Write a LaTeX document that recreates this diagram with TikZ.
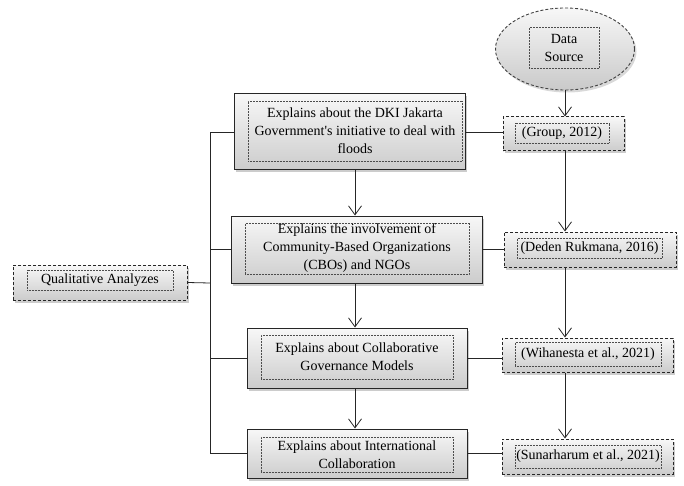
\documentclass[tikz,border=0pt]{standalone}
\usepackage{fontspec}
\setmainfont{Liberation Serif}
\usetikzlibrary{arrows.meta,shadows,shapes.geometric}
\tikzset{
  outerbox/.style={rectangle, draw=black!85, line width=1pt, top color=gray!6, bottom color=gray!40,
    drop shadow={shadow xshift=2pt, shadow yshift=-2.5pt, opacity=0.4}, inner sep=0pt},
  refbox/.style={outerbox, dashed, dash pattern=on 3pt off 2pt},
  innerbox/.style={rectangle, draw=black!70, densely dotted, line width=0.5pt, inner sep=0pt,
    align=center, font=\fontsize{14pt}{18pt}\selectfont, text=black},
  conn/.style={draw=black!85, line width=0.8pt},
  arr/.style={conn, -{Straight Barb[length=9pt,width=13pt,line width=0.8pt]}},
}
\begin{document}
\begin{tikzpicture}[x=1pt,y=-1pt]
\useasboundingbox (0,0) rectangle (684,486);
% data source
\node[ellipse, draw=black!75, dashed, dash pattern=on 3pt off 2pt, line width=0.9pt, top color=gray!6, bottom color=gray!42,
  minimum width=139pt, minimum height=82pt, drop shadow={shadow xshift=2pt, shadow yshift=-2.5pt, opacity=0.3}] (ds) at (565,49) {};
\node[innerbox, minimum width=70pt, minimum height=41pt] (dsin) at (564,48) {Data\\Source};
% left boxes
\node[outerbox, minimum width=231pt, minimum height=76pt] (b1) at (349.5,132) {};
\node[innerbox, minimum width=214pt, minimum height=60pt] (b1in) at (355,131) {Explains about the DKI Jakarta\\Government\textquotesingle s initiative to deal with\\floods};
\node[outerbox, minimum width=251pt, minimum height=67pt] (b2) at (356.5,249.5) {};
\node[innerbox, minimum width=224pt, minimum height=51pt] (b2in) at (357,248.5) {Explains the involvement of\\Community-Based Organizations\\(CBOs) and NGOs};
\node[outerbox, minimum width=220pt, minimum height=60pt] (b3) at (357,358) {};
\node[innerbox, minimum width=192pt, minimum height=44pt] (b3in) at (357,357) {Explains about Collaborative\\Governance Models};
\node[outerbox, minimum width=220pt, minimum height=49pt] (b4) at (357,453.5) {};
\node[innerbox, minimum width=192pt, minimum height=35pt] (b4in) at (357,454.5) {Explains about International\\Collaboration};
% reference boxes
\node[refbox, minimum width=121pt, minimum height=34pt] (g1) at (563.5,134) {};
\node[innerbox, minimum width=94pt, minimum height=20pt] (g1in) at (562,133) {(Group, 2012)};
\node[refbox, minimum width=172pt, minimum height=35pt] (g2) at (590,249.5) {};
\node[innerbox, minimum width=145pt, minimum height=20pt] (g2in) at (589.5,248) {(Deden Rukmana, 2016)};
\node[refbox, minimum width=171pt, minimum height=34pt] (g3) at (587.5,355) {};
\node[innerbox, minimum width=146pt, minimum height=24pt] (g3in) at (588,354) {(Wihanesta et al., 2021)};
\node[refbox, minimum width=171pt, minimum height=35pt] (g4) at (587.5,456.5) {};
\node[innerbox, minimum width=146pt, minimum height=23pt] (g4in) at (588,456.5) {(Sunarharum et al., 2021)};
% qualitative
\node[refbox, minimum width=174pt, minimum height=35pt] (qa) at (100,282.5) {};
\node[innerbox, minimum width=146pt, minimum height=20pt] (qain) at (100,280) {Qualitative Analyzes};
% bus
\coordinate (bus) at (210,283);
\draw[conn] (qa.east) -- (bus);
\draw[conn] (b1.west) -- (b1.west -| bus) -- (b4.west -| bus) -- (b4.west);
\draw[conn] (b2.west -| bus) -- (b2.west);
\draw[conn] (b3.west -| bus) -- (b3.west);
% left column arrows
\draw[arr] (b1.south -| b1in.south) -- (b2.north -| b1in.south);
\draw[arr] (b2.south -| b1in.south) -- (b3.north -| b1in.south);
\draw[arr] (b3.south -| b1in.south) -- (b4.north -| b1in.south);
% right column arrows
\draw[arr] (ds.south) -- (g1.north -| ds.south);
\draw[arr] (g1.south -| ds.south) -- (g2.north -| ds.south);
\draw[arr] (g2.south -| ds.south) -- (g3.north -| ds.south);
\draw[arr] (g3.south -| ds.south) -- (g4.north -| ds.south);
% horizontal links
\draw[conn] (b1.east) -- (b1.east -| g1.west);
\draw[conn] (b2.east) -- (b2.east -| g2.west);
\draw[conn] (b3.east) -- (b3.east -| g3.west);
\draw[conn] (b4.east) -- (b4.east -| g4.west);
\end{tikzpicture}
\end{document}
